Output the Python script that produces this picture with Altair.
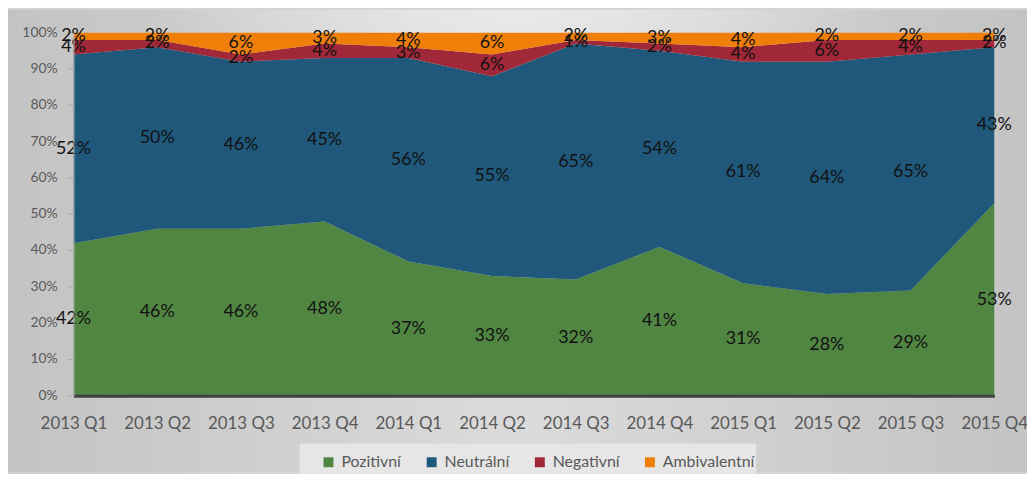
import altair as alt
import pandas as pd

categories = ["2013 Q1", "2013 Q2", "2013 Q3", "2013 Q4", "2014 Q1", "2014 Q2",
              "2014 Q3", "2014 Q4", "2015 Q1", "2015 Q2", "2015 Q3", "2015 Q4"]
series_names = ["Pozitivní", "Neutrální", "Negativní", "Ambivalentní"]
pozitivni = [42, 46, 46, 48, 37, 33, 32, 41, 31, 28, 29, 53]
neutralni = [52, 50, 46, 45, 56, 55, 65, 54, 61, 64, 65, 43]
negativni = [4, 2, 2, 4, 3, 6, 1, 2, 4, 6, 4, 2]
ambivalentni = [2, 2, 6, 3, 4, 6, 2, 3, 4, 2, 2, 2]
colors = ["#508642", "#1f587a", "#a02838", "#f07f09"]
y_ticks = [0, 10, 20, 30, 40, 50, 60, 70, 80, 90, 100]

series_values = [pozitivni, neutralni, negativni, ambivalentni]
rows = []
for i, cat in enumerate(categories):
    base = 0
    for s, name in enumerate(series_names):
        v = series_values[s][i]
        rows.append({"cat": cat, "series": name, "order": s, "value": v,
                     "low": base, "high": base + v, "mid": base + v / 2,
                     "label": f"{v}%"})
        base += v
df = pd.DataFrame(rows)
ticks_df = pd.DataFrame({"t": y_ticks, "tl": [f"{t}%" for t in y_ticks]})

W, H = 928, 366
PL, PT, PR, PB = 66, 23, 33, 77
FONT = "Lato"

xaxis = alt.Axis(title=None, labelAngle=0, labelFont=FONT, labelFontSize=17,
                 labelColor="#595959", ticks=False, labelPadding=20,
                 domainColor="#404040", domainWidth=3, zindex=1,
                 labelOverlap=False)
xscale = alt.Scale(type="point", padding=0, domain=categories)
yscale = alt.Scale(domain=[0, 100], nice=False)

one = pd.DataFrame({"a": [0]})
bg = alt.Chart(one).mark_rect(
    color={"gradient": "linear", "x1": 0, "x2": 1, "y1": 0, "y2": 0,
           "stops": [{"offset": 0, "color": "#c3c3c3"},
                     {"offset": 0.5, "color": "#dbdbdb"},
                     {"offset": 1, "color": "#c3c3c3"}]}
).encode(x=alt.value(-PL), x2=alt.value(W + PR), y=alt.value(-PT), y2=alt.value(H + PB))

glow = alt.Chart(one).mark_rect(
    color={"gradient": "radial", "x1": 0.5, "y1": 0, "r1": 0, "x2": 0.5, "y2": 0, "r2": 0.45,
           "stops": [{"offset": 0, "color": "rgba(255,255,255,1)"},
                     {"offset": 1, "color": "rgba(255,255,255,0)"}]}
).encode(x=alt.value(-PL), x2=alt.value(W + PR), y=alt.value(-PT), y2=alt.value(H + PB))

legend_box = alt.Chart(one).mark_rect(color="#e6e6e6").encode(
    x=alt.value(228), x2=alt.value(688), y=alt.value(414), y2=alt.value(460))

areas = alt.Chart(df).mark_area(opacity=1, interpolate="linear").encode(
    x=alt.X("cat:N", scale=xscale, sort=categories, axis=xaxis),
    y=alt.Y("high:Q", scale=yscale, stack=None,
            axis=alt.Axis(title=None, labels=False, ticks=False,
                          domainColor="#b5b5b5", grid=False, zindex=1)),
    y2="low:Q",
    color=alt.Color("series:N", sort=series_names,
                    scale=alt.Scale(domain=series_names, range=colors),
                    legend=alt.Legend(title=None, orient="none", direction="horizontal",
                                      legendX=249, legendY=425, symbolType="square",
                                      symbolSize=100, symbolStrokeWidth=0,
                                      labelFont=FONT, labelFontSize=16,
                                      labelColor="#595959", columnPadding=22,
                                      labelOffset=5, padding=0)),
    order=alt.Order("order:Q"),
)

ytick_marks = alt.Chart(ticks_df).mark_rule(color="#a6a6a6", strokeWidth=1).encode(
    y=alt.Y("t:Q", scale=yscale),
    x=alt.value(-5), x2=alt.value(0),
)
ytick_labels = alt.Chart(ticks_df).mark_text(font=FONT, fontSize=14, color="#595959",
                                             align="right", baseline="middle").encode(
    y=alt.Y("t:Q", scale=yscale),
    x=alt.value(-16),
    text="tl:N",
)

labels = alt.Chart(df).mark_text(font=FONT, fontSize=18, color="#111111",
                                 align="center", baseline="middle").encode(
    x=alt.X("cat:N", scale=xscale, sort=categories, axis=xaxis),
    y=alt.Y("mid:Q", scale=yscale),
    text="label:N",
)

chart = alt.layer(bg, glow, legend_box, areas, ytick_marks, ytick_labels, labels).properties(
    width=W, height=H,
    padding={"left": PL, "top": PT, "right": PR, "bottom": PB},
    autosize=alt.AutoSizeParams(type="none"),
    background="#d4d4d4",
).configure_view(stroke=None)

chart.save("out.html", embed_options={"renderer": "svg", "actions": False})
